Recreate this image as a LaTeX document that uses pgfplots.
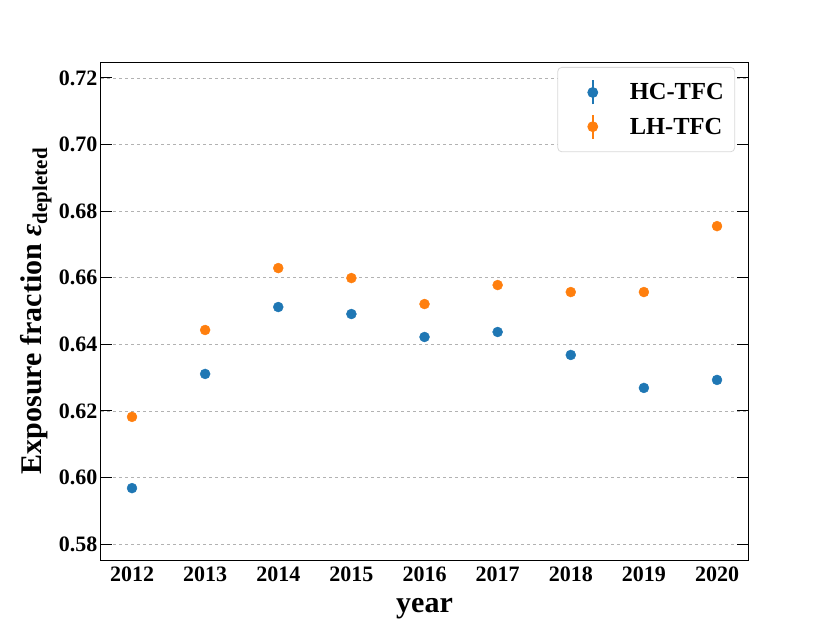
\documentclass[border=0pt]{standalone}
\usepackage{pgfplots}
\pgfplotsset{compat=1.18}
\usepackage{fontspec}
\setmainfont{Liberation Serif}
\definecolor{tabblue}{HTML}{1F77B4}
\definecolor{taborange}{HTML}{FF7F0E}
\begin{document}
\begin{tikzpicture}
\begin{axis}[
  scale only axis,
  width=647pt, height=498pt,
  xmin=2011.576, xmax=2020.424,
  ymin=0.5752, ymax=0.7248,
  xtick={2012,2013,2014,2015,2016,2017,2018,2019,2020},
  xticklabels={2012,2013,2014,2015,2016,2017,2018,2019,2020},
  ytick={0.58,0.60,0.62,0.64,0.66,0.68,0.70,0.72},
  yticklabel style={/pgf/number format/fixed,/pgf/number format/fixed zerofill,/pgf/number format/precision=2},
  /pgf/number format/assume math mode=true,
  ticklabel style={font=\fontsize{22}{24}\selectfont\bfseries},
  xticklabel style={yshift=-3pt},
  xtick style={draw=none},
  ytick pos=both,
  tick align=inside,
  major tick length=11pt,
  ytick style={line width=1pt, black},
  axis line style={line width=1pt},
  ymajorgrids,
  grid style={dashed, gray!60, line width=0.6pt},
  xlabel={year},
  ylabel={Exposure fraction \textit{ε}\textsubscript{depleted}},
  label style={font=\fontsize{30}{32}\selectfont\bfseries, inner sep=0pt},
  xlabel style={at={(axis description cs:0.5,-0.0763)},anchor=north},
  ylabel style={at={(axis description cs:-0.076,0.5)},anchor=south},
  legend style={at={(axis description cs:0.980,0.990)},anchor=north east,
    font=\fontsize{24.5}{26}\selectfont\bfseries, draw=gray!30, rounded corners=4pt,
    line width=0.8pt, inner xsep=9pt, inner ysep=12pt, row sep=8pt},
  legend cell align=left,
  legend image code/.code={
    \path[draw=none,fill=none] (0pt,0pt) -- (61pt,0pt);
    \draw[line width=2.2pt] (26pt,-12pt) -- (26pt,12pt);
    \fill (26pt,0pt) circle (5pt);
  },
]
\coordinate (bl) at (axis description cs:-0.1561,-0.1265);
\coordinate (tr) at (axis description cs:1.1267,1.1245);
\addplot[only marks, mark=*, mark size=5pt, color=tabblue] coordinates {
(2012,0.5968) (2013,0.6311) (2014,0.6512) (2015,0.6491) (2016,0.6422)
(2017,0.6437) (2018,0.6368) (2019,0.6269) (2020,0.6293)};
\addlegendentry{HC-TFC}
\addplot[only marks, mark=*, mark size=5pt, color=taborange] coordinates {
(2012,0.6182) (2013,0.6443) (2014,0.6629) (2015,0.6599) (2016,0.6521)
(2017,0.6578) (2018,0.6557) (2019,0.6557) (2020,0.6755)};
\addlegendentry{LH-TFC}
\end{axis}
\pgfresetboundingbox
\path[use as bounding box] (bl) rectangle (tr);
\end{tikzpicture}
\end{document}
